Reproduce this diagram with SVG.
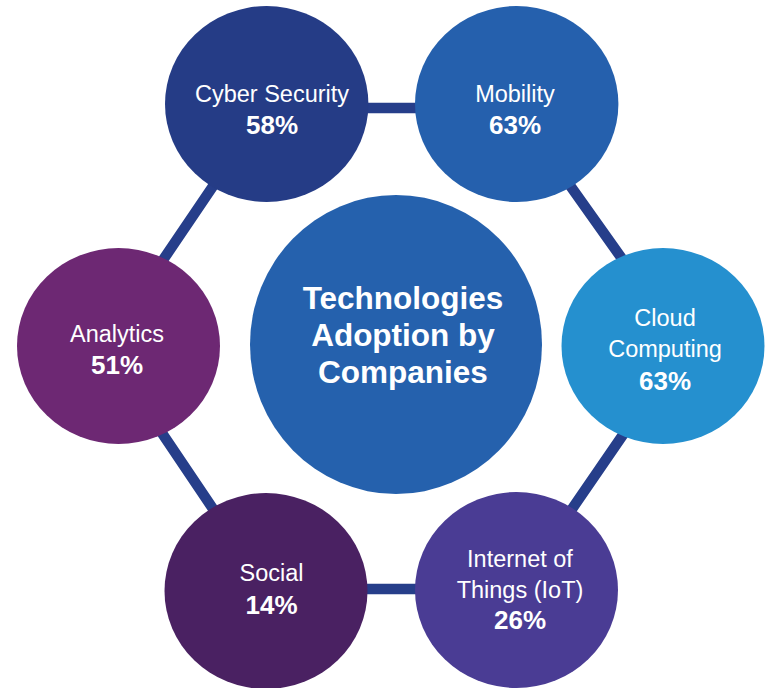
<svg xmlns="http://www.w3.org/2000/svg" width="765" height="688" viewBox="0 0 765 688">
  <style>
    .lbl { font-family: "Liberation Sans", Arial, sans-serif; fill: #ffffff; text-anchor: middle; }
    .name { font-size: 23.5px; }
    .pct { font-size: 26px; font-weight: bold; }
    .title { font-size: 31.5px; font-weight: bold; }
    .conn { fill: none; stroke: #263e8a; stroke-width: 10.5; stroke-linejoin: miter; }
  </style>
  <rect width="765" height="688" fill="#ffffff"/>
  <g id="connectors">
    <polygon class="conn" points="266,108 515,108 684,346 517,589 267,589 104,347"/>
  </g>
  <g id="center">
    <ellipse cx="396" cy="344.5" rx="146" ry="149.5" fill="#2561ad"/>
    <text class="lbl title" x="403" y="309">Technologies</text>
    <text class="lbl title" x="403" y="346">Adoption by</text>
    <text class="lbl title" x="403" y="383">Companies</text>
  </g>
  <g id="cyber-security">
    <ellipse cx="266.7" cy="104" rx="101.7" ry="98" fill="#253c86"/>
    <text class="lbl name" x="272" y="102">Cyber Security</text>
    <text class="lbl pct" x="272" y="134">58%</text>
  </g>
  <g id="mobility">
    <ellipse cx="516.7" cy="104" rx="101.7" ry="98" fill="#2560ad"/>
    <text class="lbl name" x="515" y="102">Mobility</text>
    <text class="lbl pct" x="515" y="134">63%</text>
  </g>
  <g id="cloud-computing">
    <ellipse cx="663" cy="346" rx="101.5" ry="98" fill="#2590cf"/>
    <text class="lbl name" x="665" y="326">Cloud</text>
    <text class="lbl name" x="665" y="357">Computing</text>
    <text class="lbl pct" x="665" y="390">63%</text>
  </g>
  <g id="iot">
    <ellipse cx="516.5" cy="590" rx="101.5" ry="98" fill="#4a3c94"/>
    <text class="lbl name" x="520" y="567">Internet of</text>
    <text class="lbl name" x="520" y="598">Things (IoT)</text>
    <text class="lbl pct" x="520" y="629">26%</text>
  </g>
  <g id="social">
    <ellipse cx="266" cy="591" rx="101.5" ry="98" fill="#4a2162"/>
    <text class="lbl name" x="271.5" y="581">Social</text>
    <text class="lbl pct" x="271.5" y="614">14%</text>
  </g>
  <g id="analytics">
    <ellipse cx="118.5" cy="346" rx="101.5" ry="98" fill="#6d2873"/>
    <text class="lbl name" x="117" y="342">Analytics</text>
    <text class="lbl pct" x="117" y="374">51%</text>
  </g>
</svg>
